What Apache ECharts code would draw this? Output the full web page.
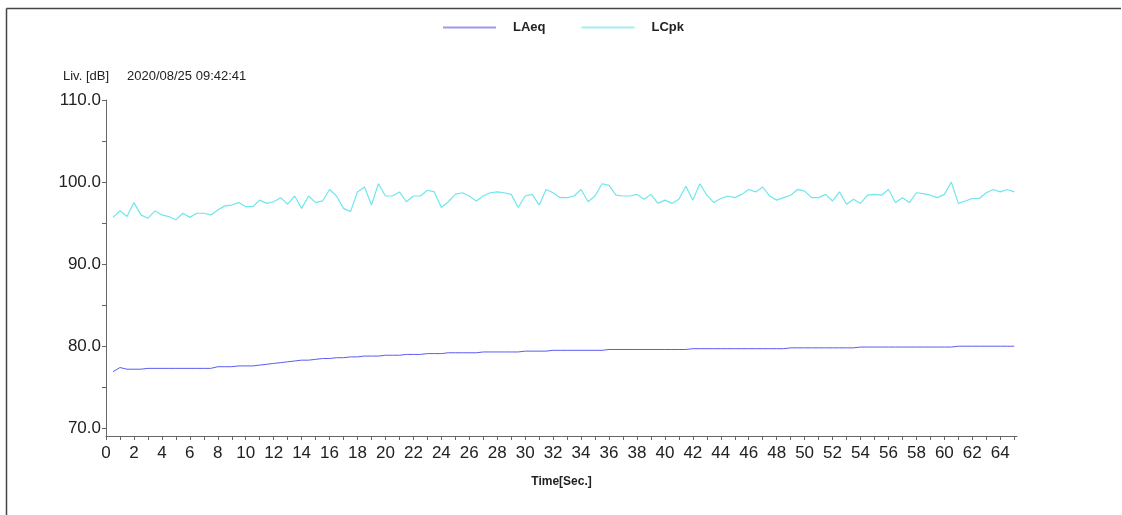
<!DOCTYPE html>
<html>
<head>
<meta charset="utf-8">
<script src="https://cdn.jsdelivr.net/npm/echarts@6/dist/echarts.min.js"></script>
<style>
html,body{margin:0;padding:0;background:#fff;overflow:hidden;}
#chart{width:1122px;height:515px;}
</style>
</head>
<body>
<div id="chart"></div>
<script>
const seriesNames = ['LAeq', 'LCpk'];
const timeSec = [
  0.5,1,1.5,2,2.5,3,3.5,4,4.5,5,5.5,6,6.5,7,7.5,8,8.5,9,9.5,10,
  10.5,11,11.5,12,12.5,13,13.5,14,14.5,15,15.5,16,16.5,17,17.5,18,18.5,19,19.5,20,
  20.5,21,21.5,22,22.5,23,23.5,24,24.5,25,25.5,26,26.5,27,27.5,28,28.5,29,29.5,30,
  30.5,31,31.5,32,32.5,33,33.5,34,34.5,35,35.5,36,36.5,37,37.5,38,38.5,39,39.5,40,
  40.5,41,41.5,42,42.5,43,43.5,44,44.5,45,45.5,46,46.5,47,47.5,48,48.5,49,49.5,50,
  50.5,51,51.5,52,52.5,53,53.5,54,54.5,55,55.5,56,56.5,57,57.5,58,58.5,59,59.5,60,
  60.5,61,61.5,62,62.5,63,63.5,64,64.5,65
];
const laeq = [
  76.9,77.4,77.2,77.2,77.2,77.3,77.3,77.3,77.3,77.3,
  77.3,77.3,77.3,77.3,77.3,77.5,77.5,77.5,77.6,77.6,
  77.6,77.7,77.8,77.9,78.0,78.1,78.2,78.3,78.3,78.4,
  78.5,78.5,78.6,78.6,78.7,78.7,78.8,78.8,78.8,78.9,
  78.9,78.9,79.0,79.0,79.0,79.1,79.1,79.1,79.2,79.2,
  79.2,79.2,79.2,79.3,79.3,79.3,79.3,79.3,79.3,79.4,
  79.4,79.4,79.4,79.5,79.5,79.5,79.5,79.5,79.5,79.5,
  79.5,79.6,79.6,79.6,79.6,79.6,79.6,79.6,79.6,79.6,
  79.6,79.6,79.6,79.7,79.7,79.7,79.7,79.7,79.7,79.7,
  79.7,79.7,79.7,79.7,79.7,79.7,79.7,79.8,79.8,79.8,
  79.8,79.8,79.8,79.8,79.8,79.8,79.8,79.9,79.9,79.9,
  79.9,79.9,79.9,79.9,79.9,79.9,79.9,79.9,79.9,79.9,
  79.9,80.0,80.0,80.0,80.0,80.0,80.0,80.0,80.0,80.0
];
const lcpk = [
  95.7,96.5,95.8,97.5,96.0,95.6,96.5,96.0,95.8,95.4,
  96.2,95.7,96.2,96.2,96.0,96.6,97.1,97.2,97.5,97.0,
  97.0,97.8,97.4,97.6,98.1,97.3,98.3,96.8,98.3,97.5,
  97.7,99.1,98.3,96.8,96.4,98.8,99.4,97.2,99.8,98.3,
  98.3,98.8,97.6,98.3,98.3,99.0,98.8,96.9,97.6,98.5,
  98.7,98.3,97.7,98.3,98.7,98.8,98.7,98.5,96.9,98.3,
  98.5,97.2,99.1,98.7,98.1,98.1,98.3,99.1,97.6,98.3,
  99.8,99.6,98.4,98.3,98.3,98.5,97.9,98.5,97.4,97.8,
  97.4,97.9,99.5,97.8,99.8,98.4,97.5,98.0,98.3,98.1,
  98.5,99.1,98.8,99.4,98.3,97.8,98.1,98.4,99.1,98.9,
  98.1,98.1,98.5,97.7,98.8,97.3,97.9,97.4,98.4,98.5,
  98.4,99.1,97.5,98.1,97.5,98.7,98.6,98.4,98.1,98.5,
  100.0,97.4,97.7,98.0,98.0,98.7,99.1,98.8,99.1,98.8
];
const yTicks = [70,75,80,85,90,95,100,105,110];
const yLabels = [70,80,90,100,110];
const xTicks = [0,1,2,3,4,5,6,7,8,9,10,11,12,13,14,15,16,17,18,19,20,21,22,23,24,25,26,27,28,29,30,31,32,33,34,35,36,37,38,39,40,41,42,43,44,45,46,47,48,49,50,51,52,53,54,55,56,57,58,59,60,61,62,63,64,65];
const xLabels = [0,2,4,6,8,10,12,14,16,18,20,22,24,26,28,30,32,34,36,38,40,42,44,46,48,50,52,54,56,58,60,62,64];
const yUnitLabel = 'Liv. [dB]';
const dateLabel = '2020/08/25 09:42:41';
const xAxisName = 'Time[Sec.]';

const pairs = (vals) => timeSec.map((t, i) => [t, vals[i]]);

const chart = echarts.init(document.getElementById('chart'), null, {renderer: 'canvas'});
const axisColor = '#666';
const colLAeq = '#5b5bf2';
const colLCpk = '#6fe6ee';
chart.setOption({
  animation: false,
  backgroundColor: '#fff',
  textStyle: {fontFamily: 'Liberation Sans, Arial, sans-serif'},
  title: [
    {text: yUnitLabel, left: 58, top: 65, textStyle: {fontSize: 13, fontWeight: 'normal', color: '#222'}},
    {text: dateLabel, left: 122, top: 65, textStyle: {fontSize: 13, fontWeight: 'normal', color: '#222'}}
  ],
  legend: {
    left: 438, top: 16,
    itemWidth: 53, itemHeight: 2, itemGap: 36,
    icon: 'rect',
    data: [
      {name: seriesNames[0], itemStyle: {color: '#9e98ea'}},
      {name: seriesNames[1], itemStyle: {color: '#a4eef0'}}
    ],
    textStyle: {fontSize: 13, fontWeight: 'bold', color: '#222', padding: [0, 0, 0, 12]}
  },
  grid: {left: 106, right: 105, top: 100, bottom: 79, containLabel: false},
  xAxis: {
    type: 'value', min: 0, max: 65.2,
    name: xAxisName, nameLocation: 'middle', nameGap: 40,
    nameTextStyle: {fontSize: 12, fontWeight: 'bold', color: '#222'},
    axisLine: {lineStyle: {color: axisColor, width: 1}},
    axisTick: {show: true, length: 4, customValues: xTicks, lineStyle: {color: axisColor}},
    axisLabel: {customValues: xLabels, fontSize: 17, color: '#222', margin: 9, showMaxLabel: true},
    splitLine: {show: false}
  },
  yAxis: {
    type: 'value', min: 69.06, max: 110,
    axisLine: {show: true, lineStyle: {color: axisColor, width: 1}},
    axisTick: {show: true, length: 4, customValues: yTicks, lineStyle: {color: axisColor}},
    axisLabel: {customValues: yLabels, fontSize: 17, color: '#222', margin: 5,
      formatter: (v) => Number(v).toFixed(1)},
    splitLine: {show: false}
  },
  graphic: [
    {type: 'line', shape: {x1: 6.5, y1: 8.5, x2: 1121, y2: 8.5}, style: {stroke: '#444', lineWidth: 1.5}},
    {type: 'line', shape: {x1: 6.5, y1: 8.5, x2: 6.5, y2: 515}, style: {stroke: '#444', lineWidth: 1.5}}
  ],
  series: [
    {name: seriesNames[0], type: 'line', data: pairs(laeq), showSymbol: false, symbol: 'none',
      lineStyle: {color: colLAeq, width: 1}, itemStyle: {color: colLAeq}},
    {name: seriesNames[1], type: 'line', data: pairs(lcpk), showSymbol: false, symbol: 'none',
      lineStyle: {color: colLCpk, width: 1.2}, itemStyle: {color: colLCpk}}
  ]
});
</script>
</body>
</html>
